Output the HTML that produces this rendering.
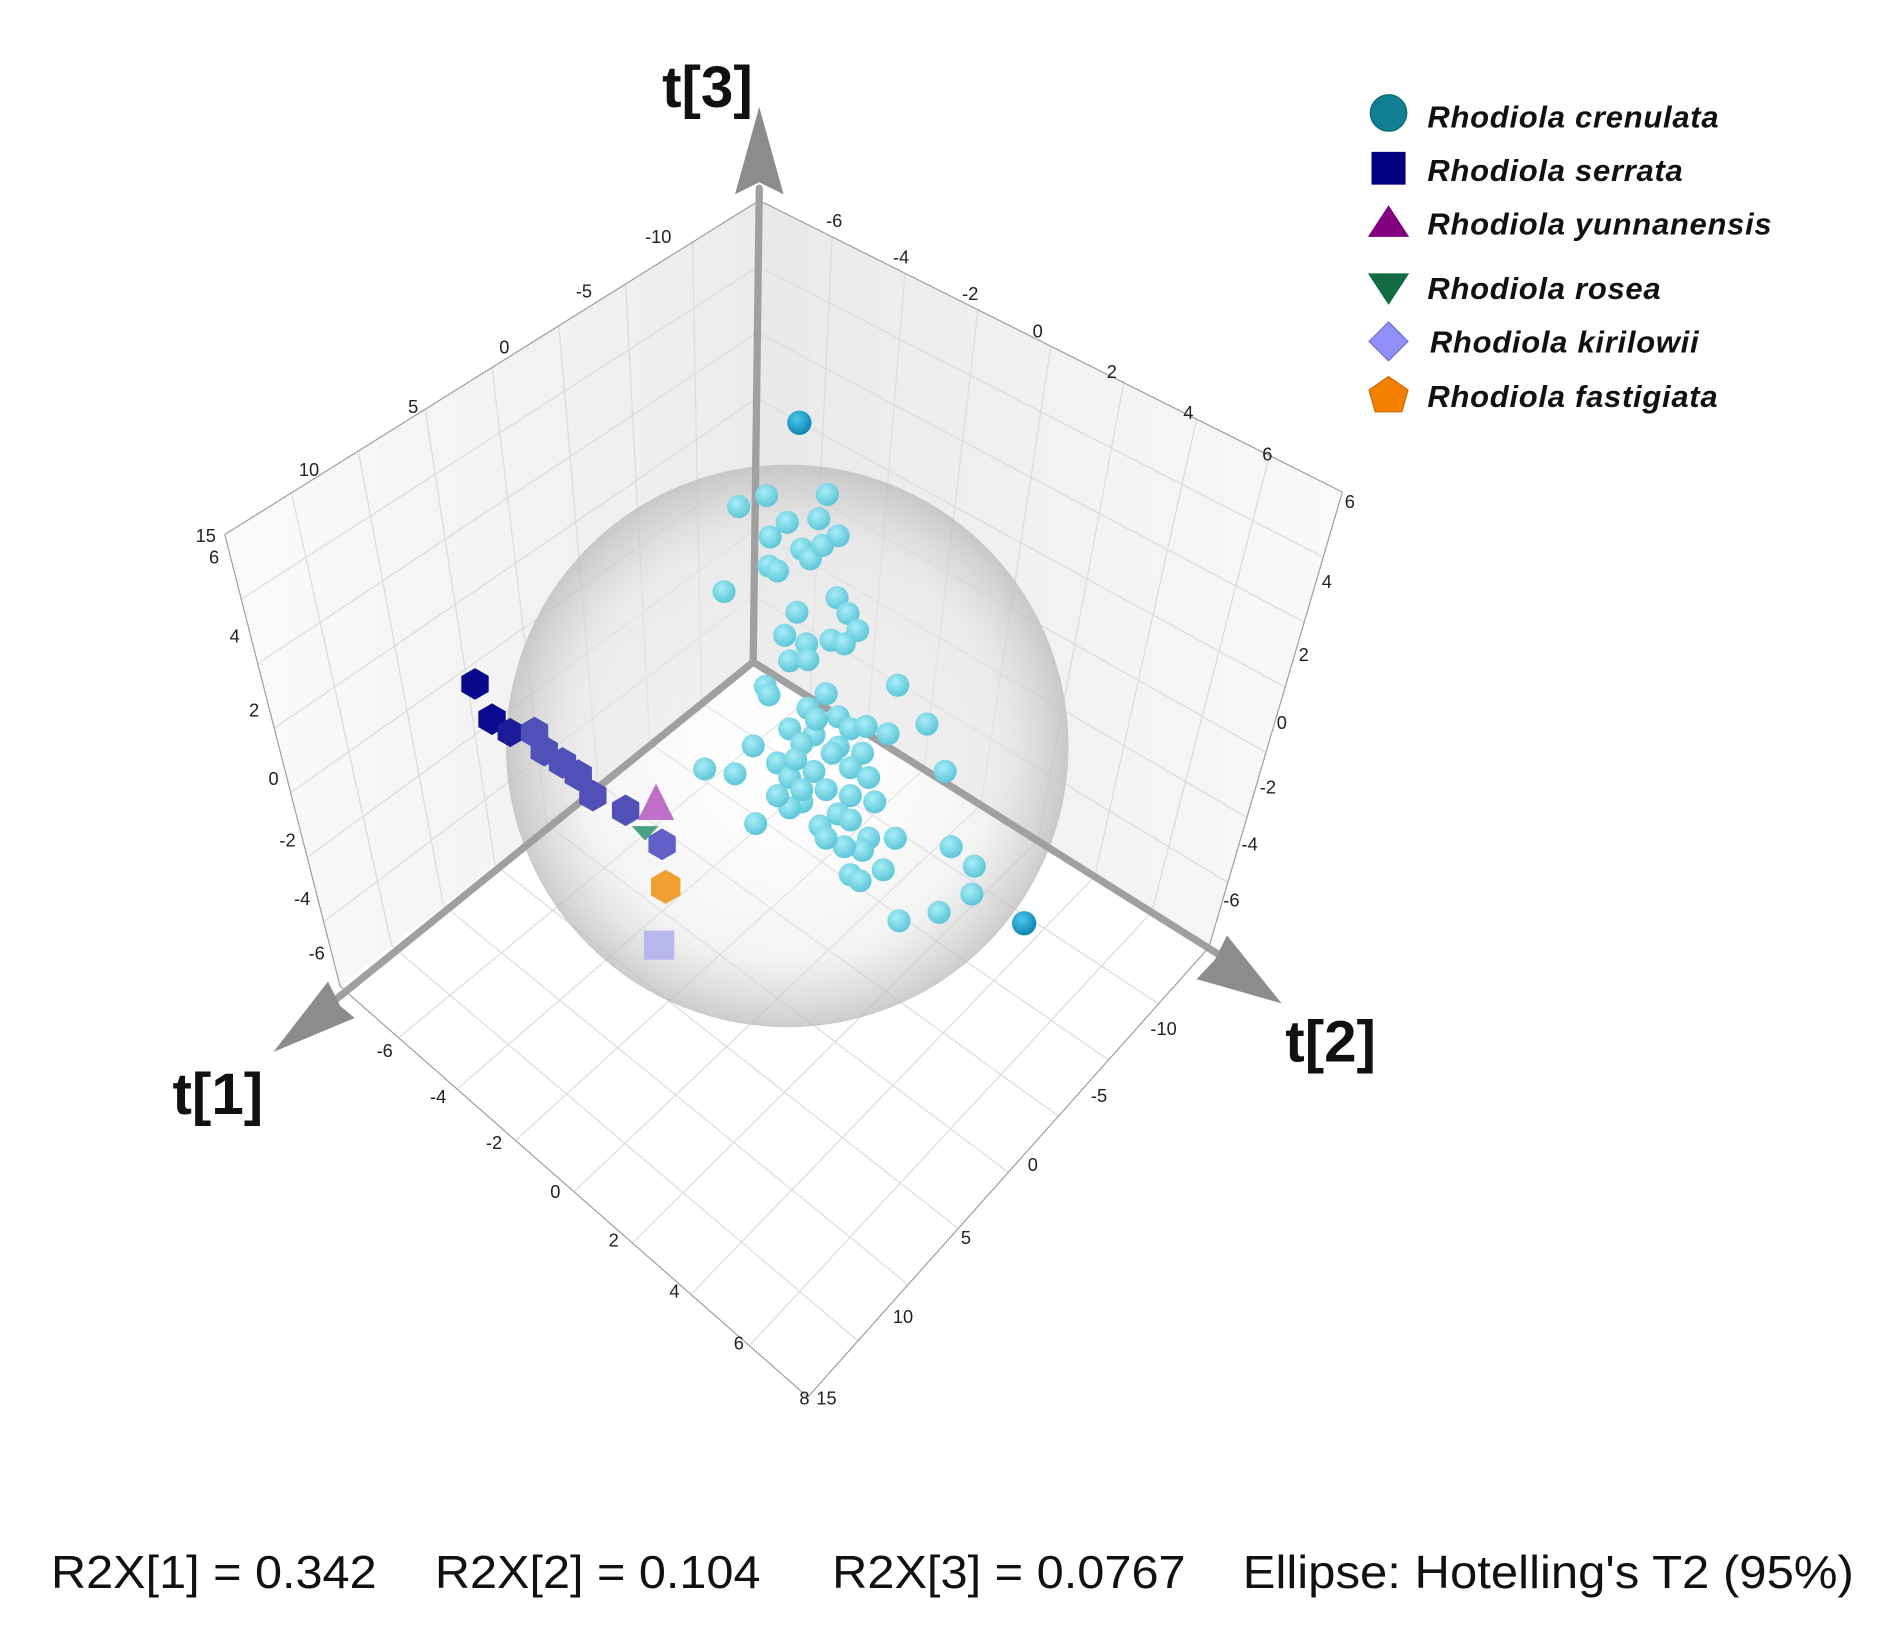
<!DOCTYPE html>
<html><head><meta charset="utf-8"><style>
html,body{margin:0;padding:0;background:#fff;}
svg{display:block;}
text{font-family:"Liberation Sans",Arial,sans-serif;}
.tk{font-size:15px;fill:#222;}
.ax{font-size:48px;font-weight:bold;fill:#111;}
.lg{font-size:25.5px;font-weight:bold;font-style:italic;fill:#111;letter-spacing:0.6px;}
.bt{font-size:38.5px;fill:#111;}
</style></head><body>
<svg id="s" width="1900" height="1640" viewBox="0 0 1564 1350" xmlns="http://www.w3.org/2000/svg">
<defs>
<radialGradient id="sph" cx="0.5" cy="0.5" r="0.5">
<stop offset="0" stop-color="#ffffff" stop-opacity="0.15"/>
<stop offset="0.75" stop-color="#e6e6e6" stop-opacity="0.45"/>
<stop offset="1" stop-color="#b8b8b8" stop-opacity="0.7"/>
</radialGradient>
<radialGradient id="cy" cx="0.4" cy="0.35" r="0.65">
<stop offset="0" stop-color="#a8eef8"/><stop offset="1" stop-color="#5ec6d8"/>
</radialGradient>
<radialGradient id="cyd" cx="0.4" cy="0.35" r="0.65">
<stop offset="0" stop-color="#4cc8ec"/><stop offset="1" stop-color="#0d86b0"/>
</radialGradient>
<linearGradient id="wallL" x1="0" y1="0" x2="1" y2="0"><stop offset="0" stop-color="#fbfbfb"/><stop offset="1" stop-color="#ececec"/></linearGradient>
<linearGradient id="wallR" x1="0" y1="0" x2="1" y2="0"><stop offset="0" stop-color="#e9e9e9"/><stop offset="1" stop-color="#fafafa"/></linearGradient>
</defs>
<g id="walls">
<polygon points="625,165 185,440 280,812 620,545" fill="url(#wallL)"/>
<polygon points="625,165 1105,405 995,780 620,545" fill="url(#wallR)"/>
<polygon points="620,545 280,812 665,1150 995,780" fill="#fff"/>
</g>
<g id="grid" stroke="#dcdcdc" stroke-width="1" fill="none"></g>
<g stroke="#a0a0a0" stroke-width="1" fill="none">
<polyline points="185,440 625,165 1105,405"/>
<polyline points="185,440 280,812 665,1150 995,780 1105,405"/>
</g>
<circle cx="648" cy="614" r="231" fill="url(#sph)" stroke="#c8c8c8" stroke-width="1"/>
<g stroke="#a0a0a0" stroke-width="6" stroke-linecap="round">
<line x1="620" y1="545" x2="625" y2="155"/>
<line x1="620" y1="545" x2="270" y2="828"/>
<line x1="620" y1="545" x2="1010" y2="790"/>
</g>
<polygon points="625,88 605,160 625,150 645,160" fill="#8c8c8c"/>
<polygon points="225,866 270,808 280,828 292,838" fill="#8c8c8c"/>
<polygon points="1055,826 985,806 1000,790 1010,770" fill="#8c8c8c"/>
<g id="pts"></g>
<text class="ax" x="545" y="88">t[3]</text>
<text class="ax" x="142" y="917">t[1]</text>
<text class="ax" x="1058" y="874">t[2]</text>
<g class="tk">
<text x="531" y="200">-10</text><text x="474" y="245">-5</text><text x="411" y="291">0</text><text x="336" y="340">5</text><text x="246" y="392">10</text><text x="161" y="446">15</text>
<text x="172" y="464">6</text><text x="189" y="529">4</text><text x="205" y="590">2</text><text x="221" y="646">0</text><text x="230" y="697">-2</text><text x="242" y="745">-4</text><text x="254" y="790">-6</text>
<text x="680" y="187">-6</text><text x="735" y="217">-4</text><text x="792" y="247">-2</text><text x="850" y="278">0</text><text x="911" y="311">2</text><text x="974" y="345">4</text><text x="1039" y="379">6</text><text x="1107" y="418">6</text>
<text x="1088" y="484">4</text><text x="1069" y="544">2</text><text x="1051" y="600">0</text><text x="1037" y="653">-2</text><text x="1022" y="700">-4</text><text x="1007" y="746">-6</text>
<text x="310" y="870">-6</text><text x="354" y="908">-4</text><text x="400" y="946">-2</text><text x="453" y="986">0</text><text x="501" y="1026">2</text><text x="551" y="1068">4</text><text x="604" y="1111">6</text><text x="658" y="1156">8</text>
<text x="947" y="852">-10</text><text x="898" y="907">-5</text><text x="846" y="964">0</text><text x="791" y="1024">5</text><text x="735" y="1089">10</text><text x="672" y="1156">15</text>
</g>
<circle cx="1143" cy="93" r="15" fill="#117f93" stroke="#0c6676"/>
<rect x="1129" y="125" width="28" height="27" fill="#020280"/>
<polygon points="1143,169 1160,195 1126,195" fill="#800080"/>
<polygon points="1126,225 1160,225 1143,251" fill="#116a40"/>
<polygon points="1143,265 1159,281 1143,297 1127,281" fill="#8f8ff8" stroke="#7272d0"/>
<polygon points="1143,310 1159,321 1154,339 1132,339 1127,321" fill="#f58000" stroke="#c86a00"/>
<g class="lg">
<text x="1175" y="105">Rhodiola crenulata</text>
<text x="1175" y="149">Rhodiola serrata</text>
<text x="1175" y="193">Rhodiola yunnanensis</text>
<text x="1175" y="246">Rhodiola rosea</text>
<text x="1177" y="290">Rhodiola kirilowii</text>
<text x="1175" y="335">Rhodiola fastigiata</text>
</g>
<g class="bt">
<text x="42" y="1307" textLength="268" lengthAdjust="spacingAndGlyphs">R2X[1] = 0.342</text>
<text x="358" y="1307" textLength="268" lengthAdjust="spacingAndGlyphs">R2X[2] = 0.104</text>
<text x="685" y="1307" textLength="291" lengthAdjust="spacingAndGlyphs">R2X[3] = 0.0767</text>
<text x="1023" y="1307" textLength="503" lengthAdjust="spacingAndGlyphs">Ellipse: Hotelling's T2 (95%)</text>
</g>
</svg>
<script>
var NS="http://www.w3.org/2000/svg";
function el(p,n,a){var e=document.createElementNS(NS,n);for(var k in a)e.setAttribute(k,a[k]);p.appendChild(e);return e;}
var g=document.getElementById("grid");
function L(a,b,c,d,n){
 for(var i=1;i<n;i++){var t=i/n;
  el(g,"line",{x1:a[0]+(b[0]-a[0])*t,y1:a[1]+(b[1]-a[1])*t,x2:d[0]+(c[0]-d[0])*t,y2:d[1]+(c[1]-d[1])*t});}
}
var T=[625,165],Lf=[185,440],LB=[280,812],O=[620,545],R=[1105,405],RB=[995,780],F=[665,1150];
L(T,Lf,LB,O,8);L(Lf,LB,O,T,7);
L(T,R,RB,O,8);L(R,RB,O,T,7);
L(O,LB,F,RB,8);L(LB,F,RB,O,8);
var P=document.getElementById("pts");
var c=[[608,417],[631,408],[681,407],[648,430],[674,427],[634,442],[690,441],[660,452],[667,460],[677,449],[633,466],[640,470],[596,487],[656,504],[689,492],[698,505],[706,519],[646,523],[684,527],[695,530],[664,530],[650,544],[665,543],[630,565],[633,572],[680,571],[665,583],[739,564],[763,596],[731,604],[690,590],[670,605],[700,600],[713,598],[650,600],[660,612],[690,615],[710,620],[620,614],[605,637],[580,633],[640,628],[650,640],[670,635],[700,632],[715,640],[680,650],[660,660],[700,655],[690,670],[675,680],[720,660],[737,690],[715,690],[710,700],[695,697],[680,690],[622,678],[778,635],[783,697],[802,713],[800,736],[740,758],[773,751],[700,720],[727,716],[708,725],[650,665],[660,650],[640,655],[700,675],[685,620],[655,625],[672,592]];
c.forEach(function(p){el(P,"circle",{cx:p[0],cy:p[1],r:9.5,fill:"url(#cy)"});});
[[658,348],[843,760]].forEach(function(p){el(P,"circle",{cx:p[0],cy:p[1],r:10,fill:"url(#cyd)"});});
function hex(x,y,r,f){var s="";for(var i=0;i<6;i++){var a=Math.PI/6+i*Math.PI/3;s+=(x+r*Math.cos(a))+","+(y+r*Math.sin(a))+" ";}el(P,"polygon",{points:s,fill:f});}
hex(391,563,13,"#08088a");hex(405,592,13,"#0a0a90");hex(420,603,12,"#1c1c98");
[[440,603],[448,618],[463,628],[476,638],[488,655],[515,667]].forEach(function(p){hex(p[0],p[1],13,"#5050b8");});
el(P,"polygon",{points:"540,645 555,675 525,675",fill:"#c070c8"});
el(P,"polygon",{points:"520,680 542,680 531,692",fill:"#4aa080"});
hex(545,695,13,"#6060c8");
hex(548,730,14,"#f0a030");
el(P,"rect",{x:530,y:766,width:25,height:24,fill:"#b8b8ec"});
</script>
</body></html>
